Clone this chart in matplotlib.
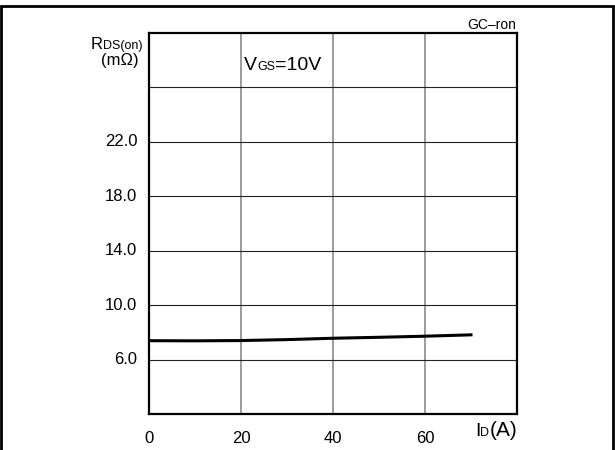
import matplotlib
matplotlib.use("Agg")
import matplotlib.pyplot as plt
from matplotlib.patches import Rectangle

# curve (ID in A, RDS(on) in mOhm)
current = [0.5, 10, 20, 30, 40, 50, 60, 70]
rds_on = [7.38, 7.37, 7.39, 7.46, 7.56, 7.63, 7.71, 7.81]

x_ticks = [0, 20, 40, 60]
y_grid = [2, 6, 10, 14, 18, 22, 26, 30]
y_labels = ["6.0", "10.0", "14.0", "18.0", "22.0"]
y_label_vals = [6, 10, 14, 18, 22]

W, H = 615, 450
FONT = "Liberation Sans"


def piece_text(fig, parts, x, y, ha="left"):
    # draw text made of pieces with different sizes on one baseline
    # x, y in pixels from top-left corner
    r = fig.canvas.get_renderer()
    widths = []
    for s, size in parts:
        t = fig.text(0, 0, s, fontsize=size, family=FONT)
        widths.append(t.get_window_extent(r).width)
        t.remove()
    total = sum(widths)
    if ha == "right":
        x = x - total
    elif ha == "center":
        x = x - total / 2
    for (s, size), w in zip(parts, widths):
        fig.text(x / W, 1 - y / H, s, fontsize=size, family=FONT,
                 va="baseline", ha="left")
        x += w


fig = plt.figure(figsize=(6.15, 4.5), dpi=100)
ax = fig.add_axes([149 / W, 1 - 414 / H, (517 - 149) / W, (414 - 32.5) / H])

ax.set_xlim(0, 80)
ax.set_ylim(2, 30)

for v in x_ticks[1:]:
    ax.axvline(v, color="#808080", lw=1.1, zorder=1)
for v in y_grid[1:-1]:
    ax.axhline(v, color="#222222", lw=0.8, zorder=1)

ax.plot(current, rds_on, color="black", lw=2.2, zorder=3)

ax.set_xticks([])
ax.set_yticks([])
for sp in ax.spines.values():
    sp.set_linewidth(1.6)

for v in x_ticks:
    ax.text(v, -0.045, str(v), transform=ax.get_xaxis_transform(),
            ha="center", va="top", fontsize=12, family=FONT)
for v, s in zip(y_label_vals, y_labels):
    ax.text(-0.032, v, s, transform=ax.get_yaxis_transform(),
            ha="right", va="center", fontsize=12, family=FONT)

# outer frame
fig.patches.append(Rectangle((1 / W, -0.1), (612 / W), 1.1 - 6 / H,
                             transform=fig.transFigure, fill=False,
                             lw=2, edgecolor="black"))

piece_text(fig, [("R", 12), ("DS(on)", 9)], 142, 49, ha="right")
fig.text(139 / W, 1 - 65 / H, "(m\u03a9)", fontsize=12, family=FONT,
         ha="right", va="baseline")
piece_text(fig, [("V", 14), ("GS", 9), ("=10V", 14)], 244, 70)
piece_text(fig, [("I", 14), ("D", 9), ("(A)", 15)], 475, 436)
fig.text(516 / W, 1 - 29 / H, "GC\u2013ron", fontsize=10, family=FONT,
         ha="right", va="baseline")

fig.savefig("out.png", dpi=100)
